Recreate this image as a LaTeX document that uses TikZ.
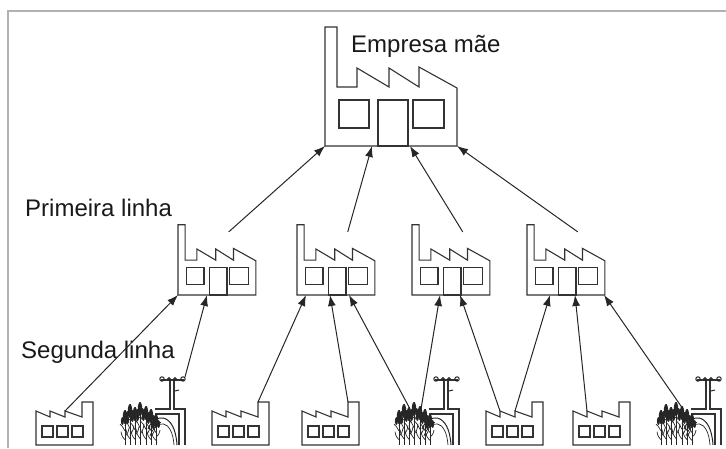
\documentclass[tikz,border=0pt]{standalone}
\usepackage{fontspec}
\setmainfont{Liberation Sans}
\usetikzlibrary{arrows.meta,calc}

\tikzset{
  outline/.style={draw=black!80,line width=1.1pt},
  stalk/.style={draw=black!85,line width=0.7pt},
  link/.style={draw=black!85,line width=1pt,-{Latex[length=11pt,width=8pt]}},
  sheet/.style={draw=black!30,line width=1.2pt},
  rowtext/.style={font=\fontsize{24}{28}\selectfont,text=black!90,inner sep=0pt,anchor=base west},
  % factory with chimney, bottom left corner at the origin
  factory/.pic={
    \draw[outline] (0,0) -- (0,-119) -- (12,-119) -- (12,-59) -- (32,-59) -- (32,-78)
      -- (64,-59) -- (64,-78) -- (94,-59) -- (94,-79) -- (132,-58) -- (132,0) -- cycle;
    \draw[outline] (14,-18) rectangle (44,-46) (53,0) rectangle (83,-46) (88,-18) rectangle (119,-46);
    \coordinate (-bl) at (0,0);
    \coordinate (-br) at (132,0);
    \coordinate (-vent) at (86,-107);
  },
  % small sawtooth works
  works/.pic={
    \draw[outline] (0,0) -- (0,-34) -- (14,-28) -- (14,-34) -- (29,-28) -- (29,-34)
      -- (46,-28) -- (46,-43) -- (57,-43) -- (57,0) -- cycle;
    \draw[outline] (6,-8) rectangle (17,-19) (21,-8) rectangle (32,-19) (36,-8) rectangle (47,-19);
    \coordinate (-t1) at (14,-34);
    \coordinate (-t2) at (29,-34);
    \coordinate (-tower) at (46,-43);
  },
  % cane field with irrigation riser, bottom right corner at the origin
  farm/.pic={
    \draw[outline] (-30,-36) -- (-15,-36) -- (-15,-64);
    \draw[outline] (-11,-64) -- (-11,-36) -- (0,-36) -- (0,0);
    \draw[outline] (-30,-31) -- (-6,-31) -- (-6,0);
    \draw[outline] (-24,-65) -- (-1,-65);
    \draw[stalk,line width=1pt] (-23,-66) circle (2.2) (-2,-66) circle (2.2)
      (-16,-66) circle (1.4) (-10,-66) circle (1.4);
    \draw[stalk,line width=1pt] (-10,-54) -- (-6,-55);
    \draw[stalk,line width=1pt] (-37,-16) .. controls (-31,-32) and (-10,-34) .. (-8,0);
    \draw[stalk] (-35,-9) .. controls (-29,-26) and (-13,-27) .. (-11,0);
    \foreach \x/\h in {-60/35,-55/41,-50/38,-45/43,-39/39,-34/36,-29/31}{
      \draw[stalk] (\x,0) -- (\x,-\h);
      \draw[stalk] (\x,-0.15*\h) .. controls (\x-3,-0.25*\h) .. (\x-4,-0.38*\h);
      \draw[stalk] (\x,-0.25*\h) .. controls (\x+3,-0.35*\h) .. (\x+4,-0.48*\h);
      \draw[stalk] (\x,-0.4*\h) .. controls (\x-3,-0.55*\h) .. (\x-5,-0.6*\h);
      \draw[stalk] (\x,-0.55*\h) .. controls (\x+3,-0.7*\h) .. (\x+5,-0.74*\h);
      \fill[black!85] (\x,-\h+7) ellipse (2.2 and 7);
      \fill[black!85] (\x-2.6,-\h+11) ellipse (1.5 and 4);
      \fill[black!85] (\x+2.6,-\h+10) ellipse (1.5 and 4);
    }
    \coordinate (-head) at (0,-68);
    \coordinate (-c1) at (-50,-38);
    \coordinate (-c2) at (-38,-36);
  }
}

\begin{document}
\begin{tikzpicture}[x=1pt,y=-1pt]
\useasboundingbox (0,0) rectangle (726,448);
\draw[sheet] (726,11) -- (8,11) -- (8,448);

% parent company
\pic (T) at (325,146) {factory};
\node[rowtext] (mother) at (351,52) {Empresa mãe};

% first tier suppliers
\foreach \n/\x in {L1/178,L2/297,L3/412,L4/527}
  \pic[scale=0.59] (\n) at (\x,295) {factory};
\node[rowtext] (first) at (25,216) {Primeira linha};

% second tier suppliers
\foreach \n/\x in {F1/36,F2/212,F3/302,F4/486,F5/573}
  \pic (\n) at (\x,445) {works};
\foreach \n/\x in {A1/185,A2/459,A3/721}
  \pic (\n) at (\x,445) {farm};
\node[rowtext] (second) at (21,358) {Segunda linha};

% supply flows
\draw[link] (L1-vent) -- (T-bl);
\draw[link] (L2-vent) -- ($(T-bl)+(47,0)$);
\draw[link] (L3-vent) -- ($(T-bl)+(85,0)$);
\draw[link] (L4-vent) -- (T-br);

\draw[link] (F1-t2) -- (L1-bl);
\draw[link] (A1-head) -- ($(L1-bl)+(29,0)$);
\draw[link] (F2-tower) -- ($(L2-bl)+(9,0)$);
\draw[link] (F3-tower) -- ($(L2-bl)+(33,0)$);
\draw[link] (A2-c1) -- ($(L2-bl)+(52,0)$);
\draw[link] (A2-c2) -- ($(L3-bl)+(28,0)$);
\draw[link] (F4-t1) -- ($(L3-bl)+(48,0)$);
\draw[link] (F4-t2) -- ($(L4-bl)+(23,0)$);
\draw[link] (F5-t1) -- ($(L4-bl)+(48,0)$);
\draw[link] (A3-c2) -- ($(L4-bl)+(77,0)$);
\end{tikzpicture}
\end{document}
